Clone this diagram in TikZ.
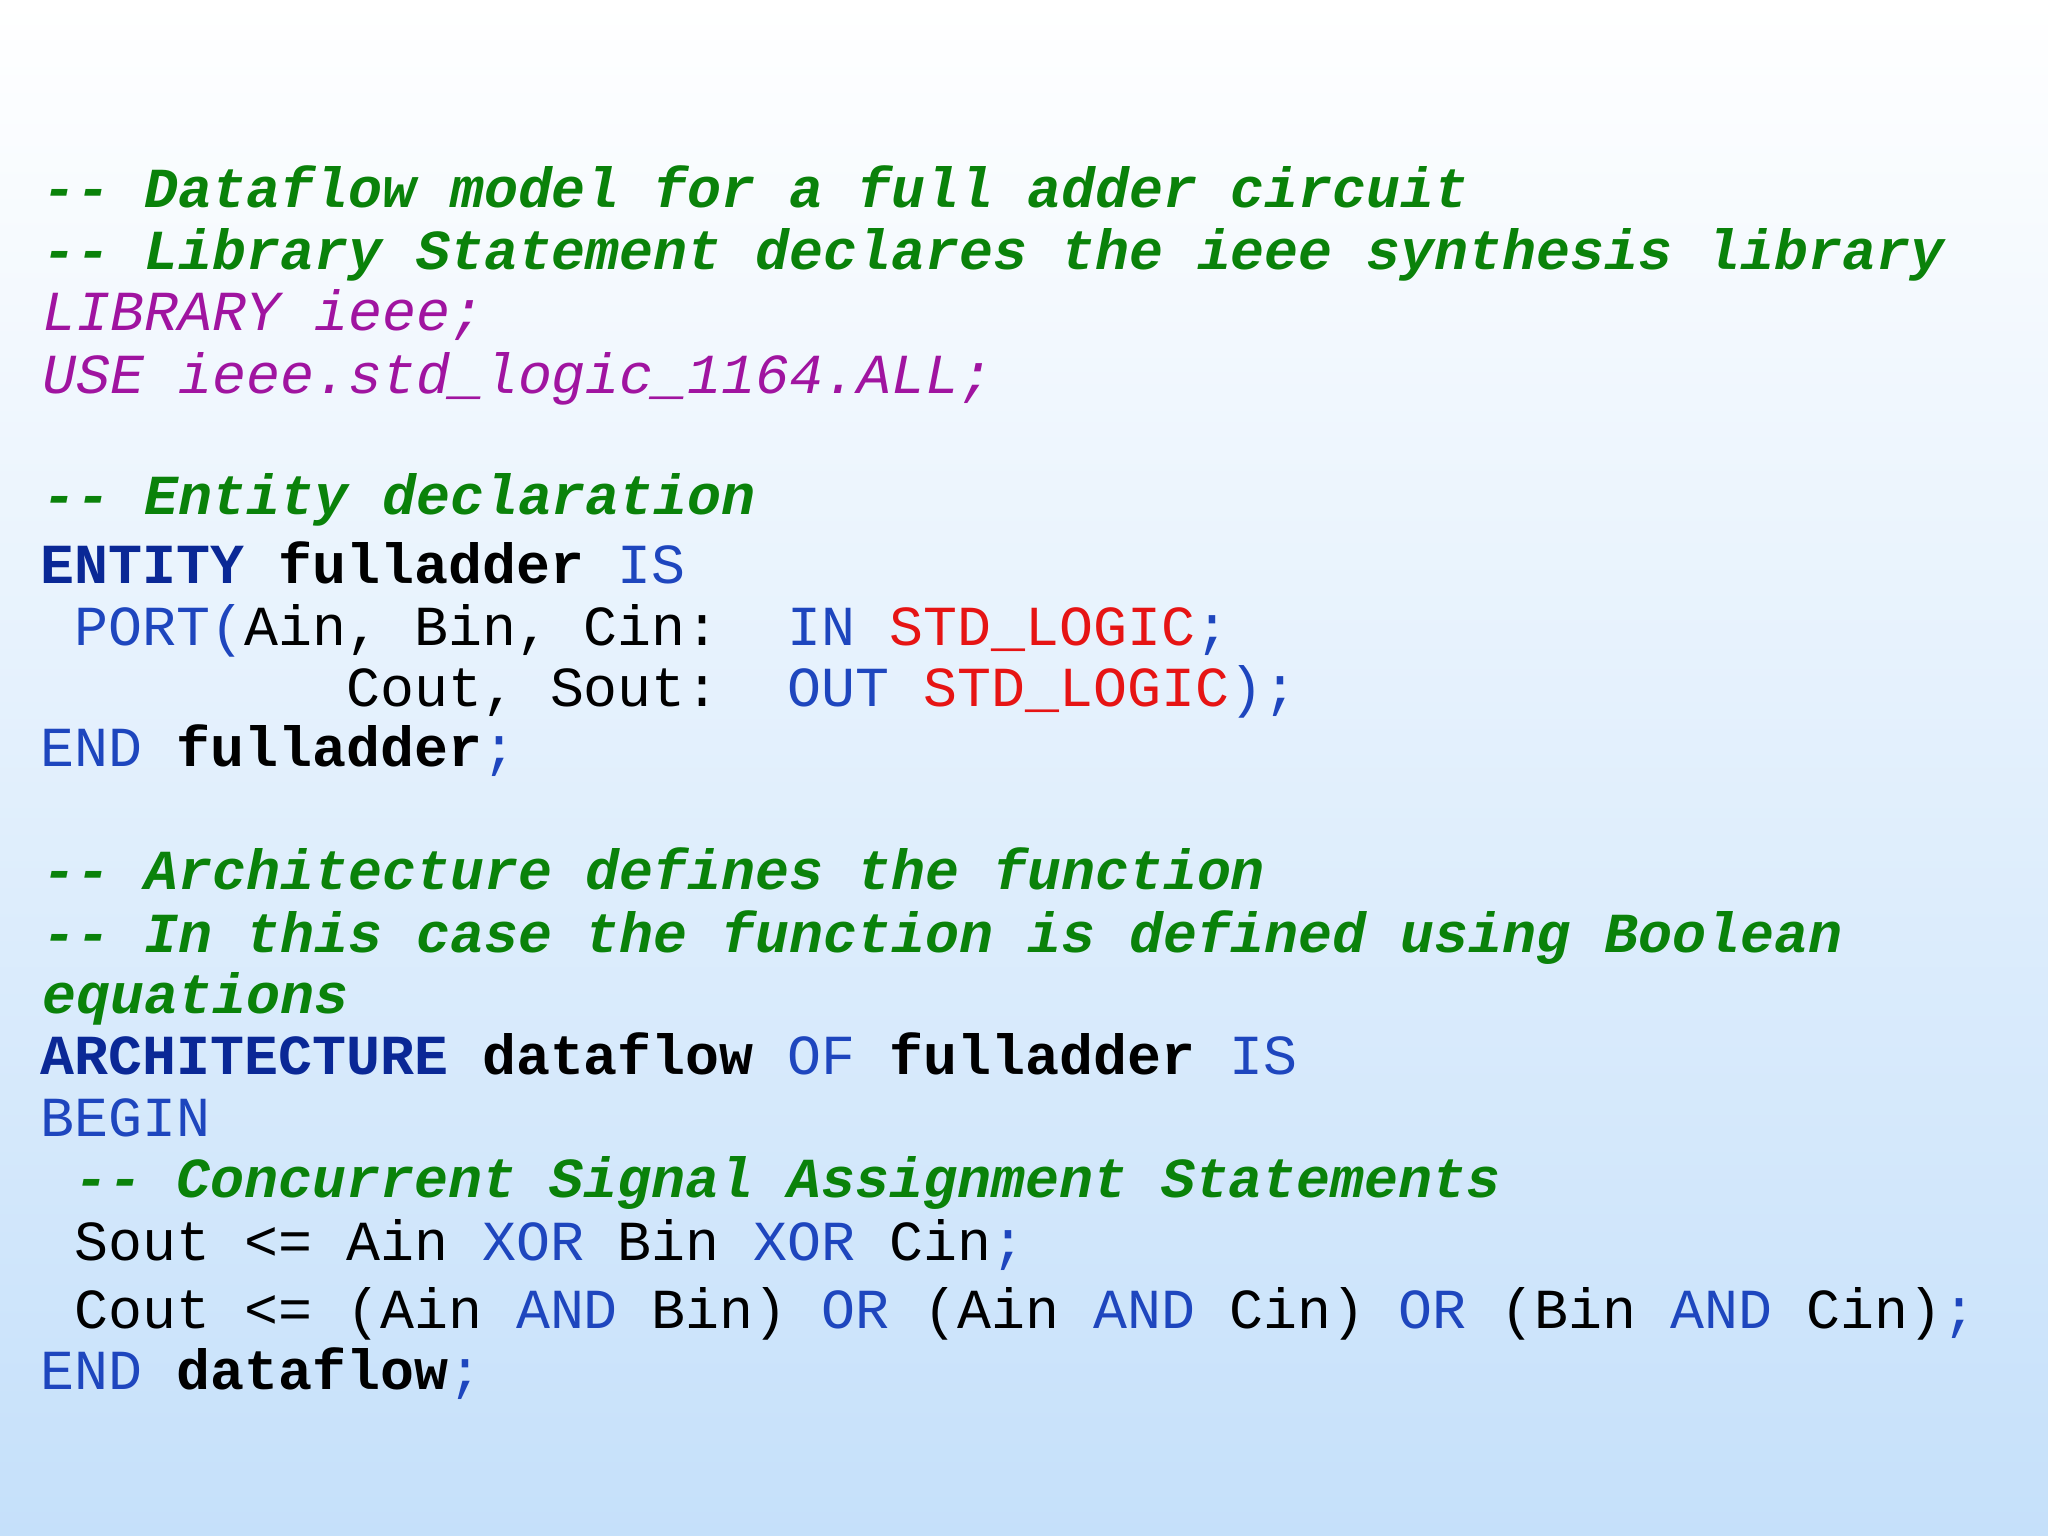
\documentclass[tikz,border=0pt]{standalone}
\usepackage{fontspec}
\setmonofont{Liberation Mono}
\definecolor{cgreen}{RGB}{10,130,10}
\definecolor{cpurple}{RGB}{160,20,160}
\definecolor{ckw}{RGB}{30,70,190}
\definecolor{ckwb}{RGB}{10,40,150}
\definecolor{cred}{RGB}{230,20,20}
\definecolor{bgbot}{RGB}{197,224,250}
\newcommand{\cm}[1]{\textcolor{cgreen}{\bfseries\itshape #1}}
\newcommand{\pu}[1]{\textcolor{cpurple}{\itshape #1}}
\newcommand{\kw}[1]{\textcolor{ckw}{#1}}
\newcommand{\kwb}[1]{\textcolor{ckwb}{\bfseries #1}}
\newcommand{\idb}[1]{\textbf{#1}}
\newcommand{\rd}[1]{\textcolor{cred}{#1}}
\begin{document}
\begin{tikzpicture}[x=1cm,y=1cm,
  codeline/.style={anchor=base west,inner sep=0pt,font=\ttfamily\fontsize{16.1}{18}\selectfont}]
\shade[top color=white,bottom color=bgbot] (0,0) rectangle (20.48,-15.36);
\useasboundingbox (0,0) rectangle (20.48,-15.36);
\def\X{0.40}
\node[codeline] (l1) at (0.42,{-(150+9)*0.01306}) {\cm{--~Dataflow model for a full adder circuit}};
\node[codeline] (l2) at (0.42,{-(197+9)*0.01306}) {\cm{--~Library Statement declares the ieee synthesis library}};
\node[codeline] (l3) at (0.42,{-(244+9)*0.01306}) {\pu{LIBRARY ieee;}};
\node[codeline] (l4) at (0.42,{-(292+9)*0.01306}) {\pu{USE ieee.std\_logic\_1164.ALL;}};
\node[codeline] (l5) at (0.42,{-(385+9)*0.01306}) {\cm{--~Entity declaration}};
\node[codeline] (l6) at (\X,{-(438+9)*0.01306}) {\kwb{ENTITY} \idb{fulladder} \kw{IS}};
\node[codeline] (l7) at (\X,{-(485+9)*0.01306}) {~\kw{PORT(}Ain, Bin, Cin:~~\kw{IN} \rd{STD\_LOGIC}\kw{;}};
\node[codeline] (l8) at (\X,{-(532+9)*0.01306}) {~~~~~~~~~Cout, Sout:~~\kw{OUT} \rd{STD\_LOGIC}\kw{);}};
\node[codeline] (l9) at (\X,{-(578+9)*0.01306}) {\kw{END} \idb{fulladder}\kw{;}};
\node[codeline] (l10) at (0.42,{-(672+9)*0.01306}) {\cm{--~Architecture defines the function}};
\node[codeline] (l11) at (0.42,{-(720+9)*0.01306}) {\cm{--~In this case the function is defined using Boolean}};
\node[codeline] (l12) at (0.42,{-(767+9)*0.01306}) {\cm{equations}};
\node[codeline] (l13) at (\X,{-(814+9)*0.01306}) {\kwb{ARCHITECTURE} \idb{dataflow} \kw{OF} \idb{fulladder} \kw{IS}};
\node[codeline] (l14) at (\X,{-(861+9)*0.01306}) {\kw{BEGIN}};
\node[codeline] (l15) at (\X,{-(908+9)*0.01306}) {~\cm{--~Concurrent Signal Assignment Statements}};
\node[codeline] (l16) at (\X,{-(956+9)*0.01306}) {~Sout <= Ain \kw{XOR} Bin \kw{XOR} Cin\kw{;}};
\node[codeline] (l17) at (\X,{-(1008+9)*0.01306}) {~Cout <= (Ain \kw{AND} Bin) \kw{OR} (Ain \kw{AND} Cin) \kw{OR} (Bin \kw{AND} Cin)\kw{;}};
\node[codeline] (l18) at (\X,{-(1055+9)*0.01306}) {\kw{END} \idb{dataflow}\kw{;}};
\end{tikzpicture}
\end{document}
